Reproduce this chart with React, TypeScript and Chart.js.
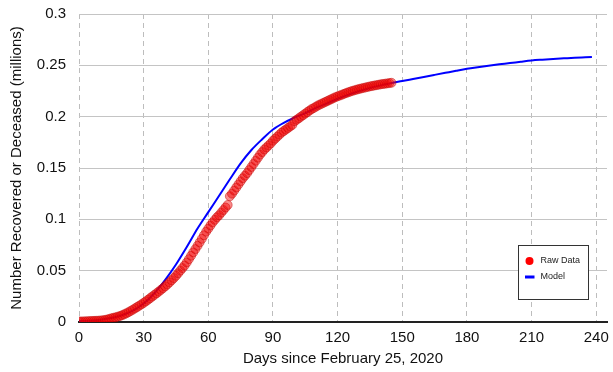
import React, { useEffect, useRef } from "react";
import { Chart, registerables } from "chart.js";

Chart.register(...registerables);

// Raw data: number recovered or deceased (millions), one value per day starting at day 0
const rawValues: number[] = [
  0.0005, 0.0005, 0.0006, 0.0007, 0.0008, 0.0009, 0.001, 0.0011, 0.0012, 0.0013,
  0.0015, 0.0017, 0.002, 0.0024, 0.003, 0.0036, 0.0041, 0.0046, 0.0052, 0.0058,
  0.0066, 0.0075, 0.0085, 0.0096, 0.0108, 0.012, 0.0133, 0.0146, 0.0159, 0.0172,
  0.0186, 0.0201, 0.0216, 0.0232, 0.0248, 0.0264, 0.028, 0.0296, 0.0313, 0.033,
  0.0348, 0.0366, 0.0386, 0.0407, 0.0428, 0.045, 0.0475, 0.05, 0.0525, 0.055,
  0.058, 0.0612, 0.0645, 0.0678, 0.071, 0.0742, 0.0775, 0.081, 0.0845, 0.088,
  0.091, 0.094, 0.097, 0.0995, 0.102, 0.104, 0.1065, 0.109, 0.1115, 0.114,
  0.1225, 0.125, 0.128, 0.131, 0.134, 0.137, 0.14, 0.1425, 0.145, 0.148,
  0.151, 0.154, 0.157, 0.16, 0.163, 0.1655, 0.168, 0.17, 0.172, 0.174,
  0.1765, 0.1785, 0.1805, 0.1825, 0.1845, 0.186, 0.1875, 0.189, 0.1905, 0.192,
  0.1955, 0.197, 0.1985, 0.2, 0.2015, 0.203, 0.2045, 0.206, 0.2075, 0.2085,
  0.2098, 0.211, 0.212, 0.213, 0.214, 0.215, 0.216, 0.217, 0.218, 0.219,
  0.2198, 0.2206, 0.2214, 0.2222, 0.223, 0.2238, 0.2245, 0.2252, 0.2258, 0.2264,
  0.227, 0.2275, 0.228, 0.2285, 0.229, 0.2295, 0.2299, 0.2303, 0.2307, 0.2311,
  0.2315, 0.2318, 0.2321, 0.2324, 0.2327, 0.233,
];

// Model curve
const modelDays: number[] = [
  0, 5, 10, 15, 20, 25, 30, 35, 40, 45, 50, 55, 60, 65, 70, 75, 80, 85, 90, 95,
  100, 105, 110, 115, 120, 125, 130, 135, 140, 145, 150, 155, 160, 165, 170, 175,
  180, 185, 190, 195, 200, 205, 210, 215, 220, 225, 230, 235, 238,
];
const modelValues: number[] = [
  0.0008, 0.0013, 0.0022, 0.0038, 0.0066, 0.011, 0.018, 0.028, 0.041, 0.056,
  0.073, 0.091, 0.107, 0.123, 0.139, 0.1545, 0.1675, 0.178, 0.1875, 0.194,
  0.199, 0.2035, 0.2085, 0.213, 0.2175, 0.2215, 0.225, 0.228, 0.2305, 0.2328,
  0.2347, 0.2367, 0.2387, 0.2407, 0.2427, 0.2447, 0.2466, 0.2482, 0.2497, 0.251,
  0.2522, 0.2535, 0.2547, 0.2555, 0.2562, 0.2568, 0.2574, 0.2579, 0.2582,
];

const seriesNames = ["Raw Data", "Model"];
const xTitle = "Days since February 25, 2020";
const yTitle = "Number Recovered or Deceased (millions)";

const FONT = "'Liberation Sans', Arial, sans-serif";

const legendBox = {
  id: "legendBox",
  afterDraw(chart: any) {
    const { ctx, chartArea } = chart;
    const w = 70;
    const h = 54;
    const left = Math.round(chartArea.right - 19 - w) + 0.5;
    const top = Math.round(chartArea.bottom - 23 - h) + 0.5;
    ctx.save();
    ctx.fillStyle = "#ffffff";
    ctx.fillRect(left, top, w, h);
    ctx.strokeStyle = "#333333";
    ctx.lineWidth = 1;
    ctx.strokeRect(left, top, w, h);
    const labels = chart.data.datasets.map((d: any) => d.label);
    const y1 = top + 15.5;
    ctx.beginPath();
    ctx.arc(left + 11, y1, 4, 0, Math.PI * 2);
    ctx.fillStyle = "#ff0000";
    ctx.fill();
    const y2 = top + 31.5;
    ctx.beginPath();
    ctx.moveTo(left + 6.5, y2);
    ctx.lineTo(left + 16, y2);
    ctx.strokeStyle = "#0000ff";
    ctx.lineWidth = 3;
    ctx.stroke();
    ctx.fillStyle = "#222222";
    ctx.font = `9px ${FONT}`;
    ctx.textBaseline = "middle";
    ctx.textAlign = "left";
    ctx.fillText(labels[0], left + 22, y1);
    ctx.fillText(labels[1], left + 22, y2);
    ctx.restore();
  },
};

export default function App() {
  const canvasRef = useRef<HTMLCanvasElement | null>(null);

  useEffect(() => {
    document.body.style.margin = "0";
    const canvas = canvasRef.current;
    if (!canvas) return;
    const rawPoints = rawValues.map((v, i) => ({ x: i, y: v }));
    const modelPoints = modelDays.map((d, i) => ({ x: d, y: modelValues[i] }));
    const chart = new Chart(canvas, {
      type: "scatter",
      data: {
        datasets: [
          {
            label: seriesNames[0],
            data: rawPoints,
            backgroundColor: "rgba(245,0,0,0.45)",
            borderColor: "rgba(190,0,0,0.45)",
            borderWidth: 1,
            pointRadius: 4.5,
            showLine: false,
            order: 0,
          },
          {
            label: seriesNames[1],
            data: modelPoints,
            borderColor: "#0000ff",
            backgroundColor: "#0000ff",
            borderWidth: 2,
            pointRadius: 0,
            showLine: true,
            cubicInterpolationMode: "monotone",
            order: 1,
          },
        ],
      },
      options: {
        animation: false,
        responsive: true,
        maintainAspectRatio: false,
        layout: { padding: { left: 0, right: 6, top: 14, bottom: 0 } },
        plugins: {
          legend: { display: false },
          tooltip: { enabled: false },
        },
        scales: {
          x: {
            type: "linear",
            min: 0,
            max: 245,
            afterFit: (scale: any) => {
              scale.height = 50;
              scale.paddingLeft = 0;
              scale.paddingRight = 0;
            },
            ticks: {
              stepSize: 30,
              includeBounds: false,
              padding: 7,
              color: "#111111",
              font: { family: FONT, size: 15 },
            },
            grid: {
              color: "#bdbdbd",
              lineWidth: 1,
              drawTicks: false,
            },
            border: {
              display: true,
              color: "#222222",
              width: 2,
              dash: [5, 4],
            },
            title: {
              display: true,
              text: xTitle,
              color: "#111111",
              font: { family: FONT, size: 15 },
              padding: { top: 0, bottom: 4 },
            },
          },
          y: {
            type: "linear",
            min: 0,
            max: 0.3,
            afterFit: (scale: any) => {
              scale.width = 79;
              scale.paddingTop = 0;
              scale.paddingBottom = 0;
            },
            ticks: {
              stepSize: 0.05,
              padding: 13,
              color: "#111111",
              font: { family: FONT, size: 15 },
              callback: (v: any) => String(Number(Number(v).toFixed(2))),
            },
            grid: {
              color: "#c4c4c4",
              lineWidth: 1,
              drawTicks: false,
            },
            border: { display: false },
            title: {
              display: true,
              text: yTitle,
              color: "#111111",
              font: { family: FONT, size: 15 },
              padding: { top: 8, bottom: 0 },
            },
          },
        },
      },
      plugins: [legendBox],
    });
    return () => chart.destroy();
  }, []);

  return (
    <div style={{ position: "relative", width: "613px", height: "372px" }}>
      <canvas ref={canvasRef} />
    </div>
  );
}
